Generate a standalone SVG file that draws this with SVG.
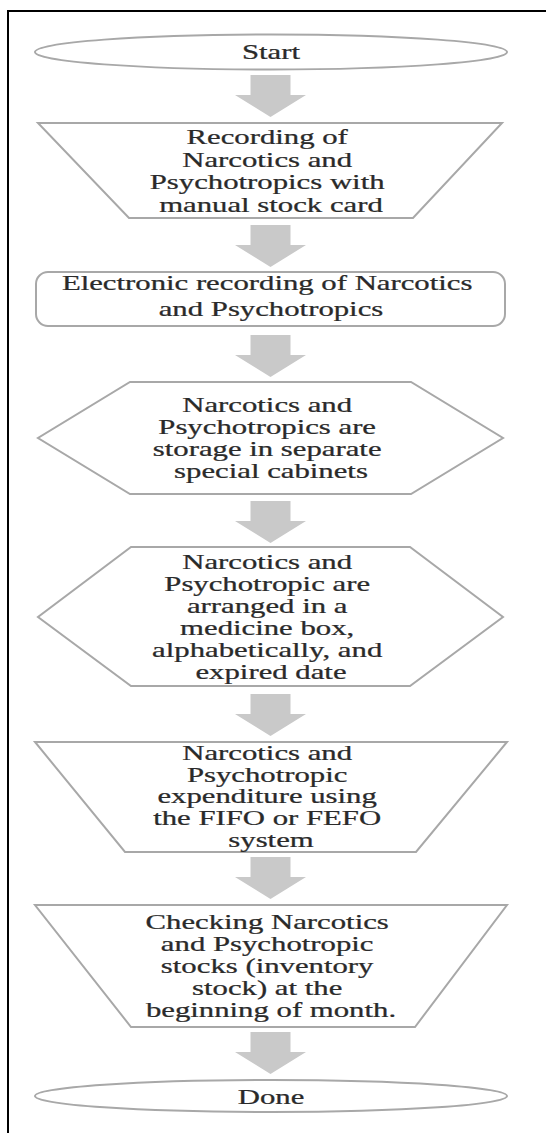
<svg xmlns="http://www.w3.org/2000/svg" xmlns:xlink="http://www.w3.org/1999/xlink" width="546" height="1133" viewBox="0 0 546 1133">
<style>
.shape{fill:#ffffff;stroke:#a8a8a8;stroke-width:2}
.lbl{font-family:"Liberation Serif","Times New Roman",serif;font-size:20.5px;fill:#2a2a2a;stroke:#2a2a2a;stroke-width:0.25;text-anchor:middle}
.arrow{fill:#c9c9c9;stroke:none}
.frame{fill:none;stroke:#000000;stroke-width:2}
</style>
<defs>
<path id="arr" d="M-20,0 H20 V20 H35.5 L0,42 L-35.5,20 H-20 Z"/>
</defs>
<rect width="546" height="1133" fill="#ffffff"/>
<path class="frame" d="M8,1133 V11 H546"/>
<g id="connectors" class="arrow">
<use xlink:href="#arr" href="#arr" x="270.5" y="75"/>
<use xlink:href="#arr" href="#arr" x="270.5" y="225"/>
<use xlink:href="#arr" href="#arr" x="270.5" y="335"/>
<use xlink:href="#arr" href="#arr" x="270.5" y="501"/>
<use xlink:href="#arr" href="#arr" x="270.5" y="694"/>
<use xlink:href="#arr" href="#arr" x="270.5" y="857"/>
<use xlink:href="#arr" href="#arr" x="270.5" y="1032"/>
</g>
<g id="start">
<ellipse class="shape" cx="271" cy="52" rx="236" ry="17.5"/>
<text class="lbl" transform="translate(271 0) scale(1.5 1)"><tspan x="0" y="59">Start</tspan></text>
</g>
<g id="recording">
<polygon class="shape" points="38,123 502,123 413,218 129,218"/>
<text class="lbl" transform="translate(271 0) scale(1.5 1)">
<tspan x="0" y="144.5">Recording of</tspan>
<tspan x="0" y="167">Narcotics and</tspan>
<tspan x="0" y="189.5">Psychotropics with</tspan>
<tspan x="0" y="212">manual stock card</tspan>
</text>
</g>
<g id="electronic">
<rect class="shape" x="36" y="272" width="469" height="54" rx="12" ry="12"/>
<text class="lbl" transform="translate(271 0) scale(1.5 1)">
<tspan x="0" y="290">Electronic recording of Narcotics</tspan>
<tspan x="0" y="316">and Psychotropics</tspan>
</text>
</g>
<g id="storage">
<polygon class="shape" points="130,382 411,382 503,438 411,494 130,494 38,438"/>
<text class="lbl" transform="translate(271 0) scale(1.5 1)">
<tspan x="0" y="412">Narcotics and</tspan>
<tspan x="0" y="434">Psychotropics are</tspan>
<tspan x="0" y="456">storage in separate</tspan>
<tspan x="0" y="478">special cabinets</tspan>
</text>
</g>
<g id="arranged">
<polygon class="shape" points="131,547 410,547 503,617 410,686 131,686 38,617"/>
<text class="lbl" transform="translate(271 0) scale(1.5 1)">
<tspan x="0" y="569">Narcotics and</tspan>
<tspan x="0" y="591">Psychotropic are</tspan>
<tspan x="0" y="613">arranged in a</tspan>
<tspan x="0" y="635">medicine box,</tspan>
<tspan x="0" y="657">alphabetically, and</tspan>
<tspan x="0" y="679">expired date</tspan>
</text>
</g>
<g id="expenditure">
<polygon class="shape" points="35,742 507,742 416,852 125,852"/>
<text class="lbl" transform="translate(271 0) scale(1.5 1)">
<tspan x="0" y="760">Narcotics and</tspan>
<tspan x="0" y="782">Psychotropic</tspan>
<tspan x="0" y="803.5">expenditure using</tspan>
<tspan x="0" y="825">the FIFO or FEFO</tspan>
<tspan x="0" y="847">system</tspan>
</text>
</g>
<g id="checking">
<polygon class="shape" points="35,905 507,905 415,1027 131,1027"/>
<text class="lbl" transform="translate(271 0) scale(1.5 1)">
<tspan x="0" y="929.5">Checking Narcotics</tspan>
<tspan x="0" y="951.5">and Psychotropic</tspan>
<tspan x="0" y="973.5">stocks (inventory</tspan>
<tspan x="0" y="995.5">stock) at the</tspan>
<tspan x="0" y="1017.5">beginning of month.</tspan>
</text>
</g>
<g id="done">
<ellipse class="shape" cx="271" cy="1096" rx="236" ry="16"/>
<text class="lbl" transform="translate(271 0) scale(1.5 1)"><tspan x="0" y="1104">Done</tspan></text>
</g>
</svg>
